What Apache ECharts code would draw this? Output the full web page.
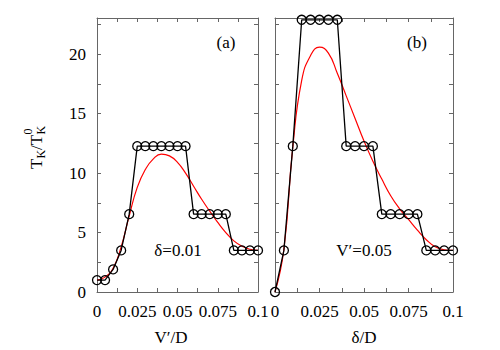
<!DOCTYPE html>
<html>
<head>
<meta charset="utf-8">
<script src="https://cdn.jsdelivr.net/npm/echarts@6/dist/echarts.min.js"></script>
<style>html,body{margin:0;padding:0;background:#fff;}#c{width:500px;height:350px;}</style>
</head>
<body>
<div id="c"></div>
<script>
// x positions (shared by both panels)
const xVals = [0,0.005,0.01,0.015,0.02,0.025,0.03,0.035,0.04,0.045,0.05,0.055,0.06,0.065,0.07,0.075,0.08,0.085,0.09,0.095,0.1];
// panel (a): delta = 0.01, x = V'/D
const stepA = [1.0,1.0,1.9,3.5,6.55,12.27,12.27,12.27,12.27,12.27,12.27,12.27,6.55,6.55,6.55,6.55,6.55,3.5,3.5,3.5,3.5];
const curveA = [1.0,1.25,2.0,3.8,6.4,8.8,10.3,11.2,11.6,11.45,10.9,10.0,8.9,7.8,6.8,5.85,5.0,4.3,3.85,3.6,3.5];
// panel (b): V' = 0.05, x = delta/D
const stepB = [0,3.5,12.27,22.9,22.9,22.9,22.9,22.9,12.27,12.27,12.27,12.27,6.55,6.55,6.55,6.55,6.55,3.5,3.5,3.5,3.5];
const curveB = [0,3.6,12.2,17.8,19.9,20.6,20.1,18.4,16.5,14.6,12.7,11.0,9.5,8.1,7.0,6.1,5.2,4.4,3.8,3.55,3.5];
// tick labels
const xTickLabels = ['0','0.025','0.05','0.075','0.1'];
const yTickLabels = ['0','5','10','15','20'];

const FONT = '"Liberation Serif", "Times New Roman", serif';
const FRAME = '#666';
const chart = echarts.init(document.getElementById('c'), null, {renderer:'svg'});

function pairs(xs, ys){ return xs.map((x,i)=>[x, ys[i]]); }
function xFmt(v){ const k = v/0.025; const r = Math.round(k); return Math.abs(k-r)<1e-6 ? xTickLabels[r] : ''; }
function yFmt(v){ const k = v/5; const r = Math.round(k); return (Math.abs(k-r)<1e-6 && r < yTickLabels.length) ? yTickLabels[r] : ''; }

function xAx(grid, pos, labels){
  return {type:'value', gridIndex:grid, position:pos, min:0, max:0.1, interval:0.0125,
    axisLine:{show:true, onZero:false, lineStyle:{color:FRAME, width:1}},
    axisTick:{show:true, inside:true, length:4, lineStyle:{color:FRAME}},
    axisLabel:{show:labels, formatter:xFmt, color:'#000', fontFamily:FONT, fontSize:17, margin:11, showMaxLabel:true, showMinLabel:true},
    splitLine:{show:false}};
}
function yAx(grid, pos, labels){
  return {type:'value', gridIndex:grid, position:pos, min:0, max:23.05, interval:2.5,
    axisLine:{show:true, onZero:false, lineStyle:{color:FRAME, width:1}},
    axisTick:{show:true, inside:true, length:4, lineStyle:{color:FRAME}},
    axisLabel:{show:labels, formatter:yFmt, color:'#000', fontFamily:FONT, fontSize:17, margin:11, showMaxLabel:false},
    splitLine:{show:false}};
}
function stepSeries(xi, yi, data){
  return {type:'line', xAxisIndex:xi, yAxisIndex:yi, data:data, symbol:'circle', symbolSize:9,
    itemStyle:{color:'rgba(0,0,0,0)', borderColor:'#000', borderWidth:1.3},
    lineStyle:{color:'#000', width:1.3}, animation:false, z:3};
}
function curveSeries(xi, yi, data){
  return {type:'line', xAxisIndex:xi, yAxisIndex:yi, data:data, smooth:true, showSymbol:false, symbol:'none',
    lineStyle:{color:'#ff0000', width:1.2}, animation:false, z:2};
}
function txt(x, y, s, size, align){
  return {type:'text', x:x, y:y, style:{text:s, font:size+'px '+FONT, fill:'#000', textAlign:align||'center', textVerticalAlign:'middle', align:align||'center', verticalAlign:'middle'}};
}

chart.setOption({
  backgroundColor:'#fff',
  animation:false,
  grid:[{left:97, top:18, width:161, height:274}, {left:275, top:18, width:178, height:274}],
  xAxis:[xAx(0,'bottom',true), xAx(0,'top',false), xAx(1,'bottom',true), xAx(1,'top',false)],
  yAxis:[yAx(0,'left',true), yAx(0,'right',false), yAx(1,'left',false), yAx(1,'right',false)],
  series:[
    curveSeries(0,0,pairs(xVals,curveA)),
    stepSeries(0,0,pairs(xVals,stepA)),
    curveSeries(2,2,pairs(xVals,curveB)),
    stepSeries(2,2,pairs(xVals,stepB))
  ],
  graphic:[
    txt(226,42,'(a)',17),
    txt(417,42,'(b)',17),
    txt(178,250,'δ=0.01',17),
    txt(364,250,'V′=0.05',17),
    txt(171,337,'V′/D',17),
    txt(364,337,'δ/D',17),
    {type:'group', x:36, y:147, rotation:Math.PI/2, children:[
      txt(-22,0,'T',17,'left'),
      txt(-11.5,5,'K',12,'left'),
      txt(-3,0,'/T',17,'left'),
      txt(12.5,5,'K',12,'left'),
      txt(12.5,-8,'0',12,'left')
    ]}
  ]
});
</script>
</body>
</html>
